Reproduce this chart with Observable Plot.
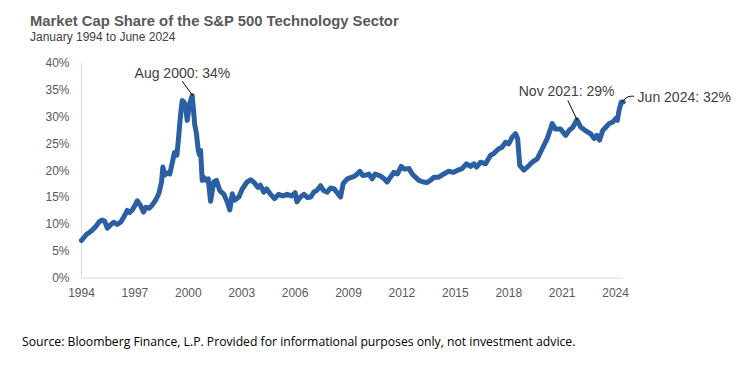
<!DOCTYPE html>
<html><head><meta charset="utf-8">
<script src="https://cdn.jsdelivr.net/npm/d3@7"></script>
<script src="https://cdn.jsdelivr.net/npm/@observablehq/plot@0.6"></script>
<style>
body{margin:0;background:#fff;}
#wrap{position:relative;width:750px;height:380px;overflow:hidden;font-family:"Liberation Sans",Arial,sans-serif;background:#fff;}
#title{position:absolute;left:30px;top:14px;font-size:14.8px;line-height:15px;font-weight:bold;color:#595959;white-space:nowrap;}
#subtitle{position:absolute;left:30px;top:30.5px;font-size:12px;line-height:12px;color:#404040;white-space:nowrap;}
#chart{position:absolute;left:0;top:50px;}
#caption{position:absolute;left:22px;top:336.2px;font-family:"Open Sans",sans-serif;font-size:12.2px;line-height:12.2px;color:#000;white-space:nowrap;}
</style>
</head><body>
<div id="wrap">
  <div id="title">Market Cap Share of the S&amp;P 500 Technology Sector</div>
  <div id="subtitle">January 1994 to June 2024</div>
  <div id="chart"></div>
  <div id="caption">Source: Bloomberg Finance, L.P. Provided for informational purposes only, not investment advice.</div>
</div>
<script>
// Series (decimal year, % share)
const years = [
1994.00,1994.15,1994.30,1994.45,1994.60,1994.80,1995.00,1995.15,1995.30,1995.45,1995.60,1995.80,
1996.00,1996.20,1996.40,1996.57,1996.70,1996.85,1997.00,1997.13,1997.30,1997.48,1997.62,1997.80,1997.95,
1998.16,1998.35,1998.50,1998.57,1998.68,1998.85,1998.96,1999.10,1999.22,1999.36,1999.45,1999.52,1999.60,
1999.66,1999.76,1999.84,1999.94,2000.07,2000.22,2000.30,2000.36,2000.46,2000.55,2000.62,2000.69,2000.78,
2000.86,2001.00,2001.12,2001.25,2001.43,2001.58,2001.77,2002.00,2002.20,2002.33,2002.47,2002.60,2002.84,
2003.03,2003.30,2003.50,2003.70,2003.90,2004.05,2004.24,2004.40,2004.60,2004.84,2005.08,2005.30,2005.55,
2005.80,2006.00,2006.10,2006.30,2006.50,2006.70,2006.87,2007.05,2007.24,2007.43,2007.60,2007.80,2008.00,
2008.20,2008.38,2008.55,2008.70,2008.93,2009.20,2009.40,2009.64,2009.80,2010.00,2010.14,2010.33,2010.50,
2010.80,2011.00,2011.17,2011.35,2011.55,2011.75,2011.96,2012.15,2012.40,2012.58,2012.76,2012.95,2013.20,
2013.40,2013.60,2013.80,2014.07,2014.35,2014.63,2014.88,2015.14,2015.38,2015.63,2015.85,2016.04,2016.20,
2016.42,2016.70,2016.98,2017.15,2017.44,2017.62,2017.82,2018.00,2018.20,2018.38,2018.50,2018.62,2018.85,
2019.05,2019.32,2019.60,2019.88,2020.16,2020.35,2020.44,2020.62,2020.90,2021.20,2021.38,2021.60,2021.83,
2022.05,2022.30,2022.60,2022.80,2022.95,2023.10,2023.28,2023.45,2023.65,2023.85,2024.00,2024.10,2024.20,
2024.32,2024.43];
const shares = [
7.0,7.6,8.2,8.5,8.9,9.6,10.5,10.8,10.6,9.3,9.8,10.4,
10.0,10.4,11.5,12.6,12.2,12.7,13.5,14.4,13.6,12.3,13.2,13.0,13.5,
14.5,15.8,18.0,20.7,19.2,19.6,19.4,21.5,23.4,22.9,26.0,28.8,31.5,
33.1,32.8,32.0,29.4,32.5,34.0,31.0,28.6,26.9,24.0,23.0,23.8,18.2,
18.8,18.2,18.5,14.3,17.9,18.2,16.3,15.6,14.1,12.7,15.7,14.5,15.1,
16.6,17.9,18.3,17.8,16.9,17.3,16.0,16.6,15.7,14.8,15.6,15.3,15.6,
15.3,15.9,14.2,15.1,15.6,15.0,15.1,16.0,16.4,17.2,16.3,16.0,16.8,
16.6,15.8,15.1,17.6,18.5,18.8,19.1,19.9,19.1,19.2,19.4,18.5,19.4,
19.0,18.5,17.9,18.8,19.7,19.4,20.8,20.3,20.4,19.4,18.8,18.2,17.9,
17.8,18.2,18.8,18.8,19.4,19.9,19.7,20.1,20.4,21.3,20.8,21.3,20.7,
21.6,21.3,22.9,23.2,24.1,24.4,25.3,25.0,26.3,26.9,26.0,21.0,20.1,
20.7,21.6,22.2,24.1,26.0,27.8,28.8,27.8,27.8,26.6,27.5,28.1,29.5,
28.1,27.5,26.9,26.0,26.6,25.7,27.5,28.1,28.8,29.1,29.7,29.4,31.3,
32.8,32.8];

const xTicks = [1994,1997,2000,2003,2006,2009,2012,2015,2018,2021,2024];
const yTicks = [0,5,10,15,20,25,30,35,40];

// Annotations (data units)
const annoText = ["Aug 2000: 34%","Nov 2021: 29%","Jun 2024: 32%"];
const annoX = [1999.67, 2021.25, 2025.24];
const annoY = [38.2, 34.8, 33.7];
const annoAnchor = ["middle","middle","start"];
const leadX1 = [1999.66, 2021.32];
const leadY1 = [36.7, 33.1];
const leadX2 = [2000.25, 2021.85];
const leadY2 = [34.0, 29.4];
const elbowX = [2024.37, 2024.65, 2025.02];
const elbowY = [32.8, 33.9, 33.9];

const data = years.map((y,i)=>({year:y, share:shares[i]}));
const annos = annoText.map((t,i)=>({text:t, x:annoX[i], y:annoY[i], anchor:annoAnchor[i]}));
const leaders = leadX1.map((x,i)=>({x1:x, y1:leadY1[i], x2:leadX2[i], y2:leadY2[i]}));
const elbow = elbowX.map((x,i)=>({x, y:elbowY[i]}));

const chart = Plot.plot({
  width: 750, height: 260,
  marginLeft: 81, marginRight: 127.3, marginTop: 13, marginBottom: 32.5,
  style: {fontFamily: "Liberation Sans, Arial, sans-serif", fontSize: "12px", color: "#595959", background: "#fff", overflow: "visible"},
  x: {domain: [1994, 2024.43], ticks: xTicks, tickFormat: d => String(d), tickSize: 0, tickPadding: 10, label: null},
  y: {domain: [0, 40], ticks: yTicks, tickFormat: d => d + "%", tickSize: 0, tickPadding: 12, label: null},
  marks: [
    Plot.ruleY([0], {stroke: "#d9d9d9", strokeWidth: 1}),
    Plot.ruleX([1994], {stroke: "#d9d9d9", strokeWidth: 1}),
    Plot.line(data, {x: "year", y: "share", stroke: "#2b5fa3", strokeWidth: 5, strokeLinejoin: "round", strokeLinecap: "round"}),
    Plot.link(leaders, {x1: "x1", y1: "y1", x2: "x2", y2: "y2", stroke: "#000", strokeWidth: 1}),
    Plot.line(elbow, {x: "x", y: "y", stroke: "#000", strokeWidth: 1, curve: "basis"}),
    Plot.text(annos.filter(d => d.anchor === "middle"), {x: "x", y: "y", text: "text", textAnchor: "middle", fontSize: 14, fill: "#404040"}),
    Plot.text(annos.filter(d => d.anchor === "start"), {x: "x", y: "y", text: "text", textAnchor: "start", fontSize: 14, fill: "#404040"})
  ]
});
document.getElementById("chart").appendChild(chart);
</script>
</body></html>
